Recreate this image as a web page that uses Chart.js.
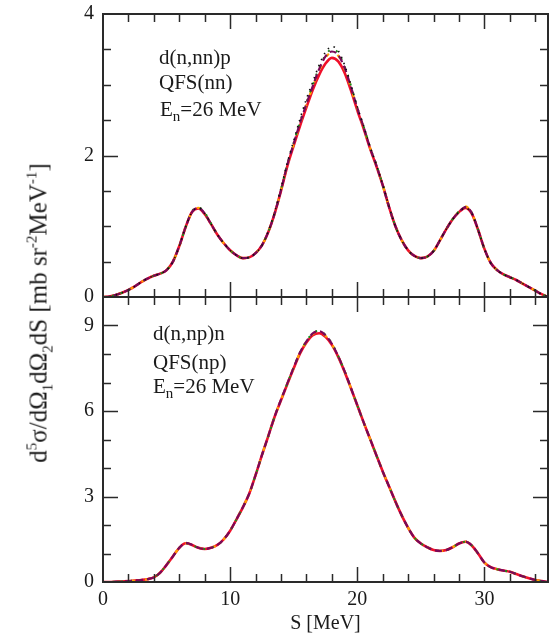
<!DOCTYPE html>
<html>
<head>
<meta charset="utf-8">
<script src="https://cdn.jsdelivr.net/npm/chart.js@4.4.1/dist/chart.umd.min.js"></script>
<style>
  body { margin: 0; background: #fff; }
  #wrap { position: relative; width: 549px; height: 636px; overflow: hidden; font-family: "Liberation Serif", serif; color: #1a1a1a; }
  canvas { position: absolute; left: 0; }
  #top { top: 0; }
  #bot { top: 283px; }
  .note { position: absolute; font-size: 21px; line-height: 1; white-space: nowrap; }
  .note sub { font-size: 15px; vertical-align: -5px; line-height: 0; }
  #ytitle { position: absolute; left: 38px; top: 313px; transform: translate(-50%, -50%) rotate(-90deg); font-size: 25px; line-height: 1; white-space: nowrap; }
  #ytitle sup { font-size: 15px; vertical-align: 10px; line-height: 0; }
  #ytitle sub { font-size: 15px; vertical-align: -6px; line-height: 0; }
</style>
</head>
<body>
<div id="wrap">
  <canvas id="top" width="549" height="310"></canvas>
  <canvas id="bot" width="549" height="353"></canvas>

  <div class="note" style="left:159px; top:47px">d(n,nn)p</div>
  <div class="note" style="left:159px; top:72px">QFS(nn)</div>
  <div class="note" style="left:160px; top:99px">E<sub>n</sub>=26 MeV</div>

  <div class="note" style="left:153px; top:323px">d(n,np)n</div>
  <div class="note" style="left:153px; top:352px">QFS(np)</div>
  <div class="note" style="left:153px; top:376px">E<sub>n</sub>=26 MeV</div>

  <div id="ytitle">d<sup>5</sup>σ/dΩ<sub>1</sub>dΩ<sub>2</sub>dS [mb sr<sup>-2</sup>MeV<sup>-1</sup>]</div>
</div>

<script>
// S grid [MeV]
const S_VALUES = [
  0, 0.5, 1, 1.5, 2, 2.5, 3, 3.5, 4, 4.5,
  5, 5.5, 6, 6.5, 7, 7.5, 8, 8.5, 9, 9.5,
  10, 10.5, 11, 11.5, 12, 12.5, 13, 13.5, 14, 14.5,
  15, 15.5, 16, 16.5, 17, 17.5, 18, 18.5, 19, 19.5,
  20, 20.5, 21, 21.5, 22, 22.5, 23, 23.5, 24, 24.5,
  25, 25.5, 26, 26.5, 27, 27.5, 28, 28.5, 29, 29.5,
  30, 30.5, 31, 31.5, 32, 32.5, 33, 33.5, 34, 34.5,
  35
];

// top panel: d(n,nn)p, QFS(nn)
const NN_RED = [
  0, 0.005, 0.03, 0.06, 0.1, 0.15, 0.21, 0.26, 0.3, 0.33,
  0.38, 0.5, 0.72, 0.99, 1.2, 1.25, 1.17, 1.03, 0.88, 0.76,
  0.66, 0.59, 0.55, 0.56, 0.62, 0.73, 0.92, 1.18, 1.5, 1.85,
  2.14, 2.42, 2.68, 2.93, 3.14, 3.3, 3.38, 3.33, 3.17, 2.92,
  2.64, 2.38, 2.1, 1.85, 1.58, 1.27, 1.0, 0.8, 0.66, 0.58,
  0.55, 0.57, 0.65, 0.8, 0.96, 1.1, 1.2, 1.26, 1.18, 0.95,
  0.68, 0.48, 0.38, 0.32, 0.28, 0.24, 0.19, 0.14, 0.09, 0.04,
  0
];
const NN_PURPLE = [
  0, 0.005, 0.03, 0.06, 0.1, 0.15, 0.21, 0.26, 0.3, 0.33,
  0.38, 0.5, 0.72, 0.99, 1.2, 1.26, 1.18, 1.03, 0.88, 0.76,
  0.66, 0.59, 0.55, 0.56, 0.62, 0.73, 0.92, 1.18, 1.51, 1.87,
  2.17, 2.46, 2.73, 2.98, 3.22, 3.4, 3.47, 3.42, 3.24, 2.97,
  2.67, 2.4, 2.11, 1.86, 1.58, 1.27, 1.0, 0.8, 0.66, 0.58,
  0.55, 0.57, 0.65, 0.8, 0.96, 1.1, 1.2, 1.27, 1.19, 0.95,
  0.68, 0.48, 0.38, 0.32, 0.28, 0.24, 0.19, 0.14, 0.09, 0.04,
  0
];
const NN_ORANGE = [
  0, 0.005, 0.03, 0.06, 0.1, 0.15, 0.21, 0.26, 0.3, 0.33,
  0.38, 0.5, 0.72, 0.99, 1.2, 1.26, 1.18, 1.03, 0.88, 0.76,
  0.66, 0.59, 0.55, 0.56, 0.62, 0.73, 0.92, 1.18, 1.51, 1.86,
  2.16, 2.45, 2.72, 2.97, 3.2, 3.38, 3.46, 3.41, 3.22, 2.96,
  2.66, 2.39, 2.11, 1.86, 1.58, 1.27, 1.0, 0.8, 0.66, 0.58,
  0.55, 0.57, 0.65, 0.8, 0.96, 1.1, 1.21, 1.28, 1.19, 0.95,
  0.68, 0.48, 0.38, 0.32, 0.28, 0.24, 0.19, 0.14, 0.09, 0.04,
  0
];
const NN_GREEN = [
  0, 0.005, 0.03, 0.06, 0.1, 0.15, 0.21, 0.26, 0.3, 0.33,
  0.38, 0.5, 0.72, 0.99, 1.21, 1.27, 1.19, 1.04, 0.88, 0.76,
  0.66, 0.59, 0.55, 0.56, 0.62, 0.73, 0.92, 1.18, 1.52, 1.88,
  2.18, 2.48, 2.75, 3.0, 3.24, 3.42, 3.5, 3.45, 3.26, 2.99,
  2.68, 2.41, 2.12, 1.87, 1.59, 1.28, 1.0, 0.8, 0.66, 0.58,
  0.55, 0.57, 0.65, 0.8, 0.96, 1.1, 1.21, 1.27, 1.19, 0.95,
  0.68, 0.48, 0.38, 0.32, 0.28, 0.24, 0.19, 0.14, 0.09, 0.04,
  0
];
const NN_BLACK = [
  0, 0.005, 0.03, 0.06, 0.1, 0.15, 0.21, 0.26, 0.3, 0.33,
  0.38, 0.5, 0.72, 0.99, 1.2, 1.26, 1.18, 1.03, 0.88, 0.76,
  0.66, 0.59, 0.55, 0.56, 0.62, 0.73, 0.93, 1.2, 1.54, 1.9,
  2.21, 2.52, 2.8, 3.04, 3.28, 3.46, 3.54, 3.48, 3.28, 3.0,
  2.69, 2.42, 2.13, 1.87, 1.59, 1.28, 1.0, 0.8, 0.66, 0.58,
  0.55, 0.57, 0.65, 0.8, 0.96, 1.1, 1.2, 1.26, 1.18, 0.95,
  0.68, 0.48, 0.38, 0.32, 0.28, 0.24, 0.19, 0.14, 0.09, 0.04,
  0
];

// bottom panel: d(n,np)n, QFS(np)
const NP_RED = [
  0, 0, 0.01, 0.02, 0.03, 0.05, 0.07, 0.1, 0.16, 0.33,
  0.6, 0.9, 1.2, 1.36, 1.3, 1.2, 1.16, 1.2, 1.3, 1.5,
  1.8, 2.2, 2.62, 3.1, 3.75, 4.45, 5.12, 5.8, 6.38, 6.95,
  7.5, 8.02, 8.4, 8.66, 8.73, 8.6, 8.32, 7.9, 7.38, 6.8,
  6.2, 5.6, 5.03, 4.45, 3.88, 3.35, 2.82, 2.33, 1.9, 1.55,
  1.35, 1.22, 1.12, 1.09, 1.12, 1.22, 1.35, 1.41, 1.28, 1.0,
  0.68, 0.52, 0.45, 0.4, 0.36, 0.28, 0.2, 0.13, 0.07, 0.03,
  0
];
const NP_PURPLE = [
  0, 0, 0.01, 0.02, 0.03, 0.05, 0.07, 0.1, 0.16, 0.33,
  0.6, 0.9, 1.2, 1.37, 1.31, 1.2, 1.16, 1.2, 1.3, 1.5,
  1.8, 2.2, 2.62, 3.1, 3.75, 4.45, 5.12, 5.8, 6.4, 6.97,
  7.53, 8.06, 8.44, 8.72, 8.8, 8.66, 8.36, 7.92, 7.4, 6.81,
  6.2, 5.6, 5.03, 4.45, 3.88, 3.35, 2.82, 2.33, 1.9, 1.55,
  1.35, 1.22, 1.12, 1.09, 1.12, 1.22, 1.35, 1.42, 1.29, 1.0,
  0.68, 0.52, 0.45, 0.4, 0.36, 0.28, 0.2, 0.13, 0.07, 0.03,
  0
];
const NP_ORANGE = [
  0, 0, 0.01, 0.02, 0.03, 0.05, 0.07, 0.1, 0.16, 0.33,
  0.6, 0.9, 1.2, 1.36, 1.31, 1.2, 1.16, 1.2, 1.3, 1.5,
  1.8, 2.2, 2.62, 3.1, 3.75, 4.45, 5.12, 5.8, 6.39, 6.96,
  7.52, 8.05, 8.43, 8.7, 8.78, 8.64, 8.35, 7.91, 7.39, 6.8,
  6.2, 5.6, 5.03, 4.45, 3.88, 3.35, 2.82, 2.33, 1.9, 1.55,
  1.35, 1.22, 1.12, 1.09, 1.12, 1.22, 1.35, 1.42, 1.29, 1.0,
  0.68, 0.52, 0.45, 0.4, 0.36, 0.28, 0.2, 0.13, 0.07, 0.03,
  0
];
const NP_GREEN = [
  0, 0, 0.01, 0.02, 0.03, 0.05, 0.07, 0.1, 0.16, 0.33,
  0.6, 0.9, 1.2, 1.36, 1.3, 1.2, 1.16, 1.2, 1.3, 1.5,
  1.8, 2.2, 2.62, 3.1, 3.75, 4.45, 5.12, 5.8, 6.4, 6.97,
  7.53, 8.06, 8.45, 8.73, 8.81, 8.67, 8.37, 7.93, 7.4, 6.81,
  6.2, 5.6, 5.03, 4.45, 3.88, 3.35, 2.82, 2.33, 1.9, 1.55,
  1.35, 1.22, 1.12, 1.09, 1.12, 1.22, 1.35, 1.41, 1.28, 1.0,
  0.68, 0.52, 0.45, 0.4, 0.36, 0.28, 0.2, 0.13, 0.07, 0.03,
  0
];

// ticks
const X_TICKS = [0, 10, 20, 30];
const TOP_Y_TICKS = [0, 2, 4];
const BOT_Y_TICKS = [0, 3, 6, 9];

const INK = '#1a1a1a';
const FONT = 'Liberation Serif';

function pts(ys) {
  return S_VALUES.map((s, i) => ({ x: s, y: ys[i] }));
}

function line(ys, color, width, dash, order) {
  return {
    data: pts(ys),
    borderColor: color,
    borderWidth: width,
    borderDash: dash,
    pointRadius: 0,
    fill: false,
    cubicInterpolationMode: 'monotone',
    order: order
  };
}

// frame box + inward ticks on all four sides
const frameTicks = {
  id: 'frameTicks',
  afterDatasetsDraw(chart, args, opts) {
    const { ctx, chartArea: a, scales: { x, y } } = chart;
    ctx.save();
    ctx.strokeStyle = '#2a2a2a';
    ctx.lineWidth = 1.5;
    ctx.beginPath();
    const xt = (v, len) => {
      const px = Math.round(x.getPixelForValue(v)) + 0.5;
      ctx.moveTo(px, a.bottom); ctx.lineTo(px, a.bottom - len);
      ctx.moveTo(px, a.top); ctx.lineTo(px, a.top + len);
    };
    const yt = (v, len) => {
      const py = Math.round(y.getPixelForValue(v)) + 0.5;
      ctx.moveTo(a.left, py); ctx.lineTo(a.left + len, py);
      ctx.moveTo(a.right, py); ctx.lineTo(a.right - len, py);
    };
    for (let v = opts.xStep; v < x.max; v += opts.xStep) {
      xt(v, opts.xMajor.includes(v) ? 15 : 8);
    }
    for (let v = opts.yStep; v < y.max; v += opts.yStep) {
      const major = opts.yMajor.some(m => Math.abs(m - v) < 1e-6);
      yt(v, major ? 15 : 8);
    }
    ctx.stroke();
    ctx.lineWidth = 2;
    ctx.strokeRect(a.left, a.top, a.right - a.left, a.bottom - a.top);
    ctx.restore();
  }
};

const yAxis = (max, ticks) => ({
  type: 'linear',
  min: 0,
  max: max,
  afterFit: s => { s.width = 103; s.paddingTop = 0; s.paddingBottom = 0; },
  afterBuildTicks: s => { s.ticks = ticks.map(v => ({ value: v })); },
  grid: { display: false, drawTicks: false },
  border: { display: false },
  ticks: { padding: 9, color: INK, font: { family: FONT, size: 20 } }
});

new Chart(document.getElementById('top'), {
  type: 'line',
  data: {
    datasets: [
      line(NN_RED, '#f0102a', 2.6, [], 5),
      line(NN_ORANGE, '#ffa000', 2.2, [4, 10], 4),
      line(NN_GREEN, '#1a8a1a', 2, [2, 7], 3),
      line(NN_PURPLE, '#7a0858', 2.2, [7, 4], 2),
      line(NN_BLACK, '#111111', 1.6, [1.5, 5], 1)
    ]
  },
  options: {
    responsive: false,
    animation: false,
    layout: { padding: { left: 0, right: 1, top: 14, bottom: 13 } },
    plugins: {
      legend: { display: false },
      tooltip: { enabled: false },
      frameTicks: { xStep: 2, xMajor: X_TICKS, yStep: 0.5, yMajor: TOP_Y_TICKS }
    },
    scales: {
      x: { type: 'linear', min: 0, max: 35, display: false },
      y: yAxis(4, TOP_Y_TICKS)
    }
  },
  plugins: [frameTicks]
});

new Chart(document.getElementById('bot'), {
  type: 'line',
  data: {
    datasets: [
      line(NP_RED, '#f0102a', 2.6, [], 5),
      line(NP_ORANGE, '#ffa000', 2.2, [4, 10], 4),
      line(NP_GREEN, '#1a8a1a', 2, [2, 7], 3),
      line(NP_PURPLE, '#7a0858', 2.2, [7, 4], 2)
    ]
  },
  options: {
    responsive: false,
    animation: false,
    layout: { padding: { left: 0, right: 1, top: 14, bottom: 0 } },
    plugins: {
      legend: { display: false },
      tooltip: { enabled: false },
      frameTicks: { xStep: 2, xMajor: X_TICKS, yStep: 1, yMajor: BOT_Y_TICKS }
    },
    scales: {
      x: {
        type: 'linear',
        min: 0,
        max: 35,
        afterFit: s => { s.height = 54; },
        afterBuildTicks: s => { s.ticks = X_TICKS.map(v => ({ value: v })); },
        grid: { display: false, drawTicks: false },
        border: { display: false },
        ticks: { padding: 6, maxRotation: 0, color: INK, font: { family: FONT, size: 20 } },
        title: {
          display: true,
          text: 'S [MeV]',
          color: INK,
          padding: { top: 0, bottom: 0 },
          font: { family: FONT, size: 20, lineHeight: 1.2 }
        }
      },
      y: yAxis(10, BOT_Y_TICKS)
    }
  },
  plugins: [frameTicks]
});
</script>
</body>
</html>
